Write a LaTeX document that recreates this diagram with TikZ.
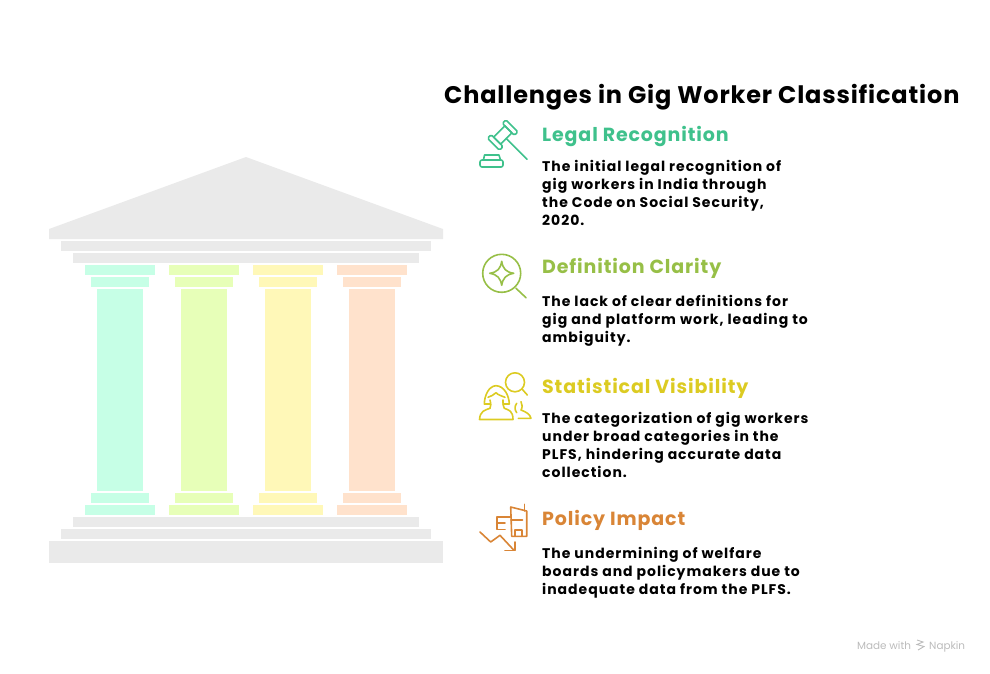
\documentclass[tikz,border=0pt]{standalone}
\usepackage{fontspec}
\setmainfont{Poppins}
\usetikzlibrary{positioning}
\definecolor{roofgray}{HTML}{EAEAEA}
\definecolor{legalgreen}{HTML}{3FC18C}
\definecolor{clarlime}{HTML}{97BF47}
\definecolor{statyellow}{HTML}{DCCB22}
\definecolor{policyorange}{HTML}{D98536}
\definecolor{napgray}{HTML}{BBBBBB}
\begin{document}
\begin{tikzpicture}[x=1pt,y=-1pt]
        \tikzstyle{titletext}=[anchor=base west,inner sep=0pt,font=\fontsize{24}{26}\selectfont\bfseries\addfontfeatures{LetterSpace=3.5}]
        \tikzstyle{headtext}=[anchor=base west,inner sep=0pt,font=\fontsize{19}{21}\selectfont\bfseries\addfontfeatures{LetterSpace=4.6}]
        \tikzstyle{bodytext}=[anchor=north west,inner sep=0pt,align=left,font=\fontsize{14}{18}\selectfont\bfseries\addfontfeatures{LetterSpace=7}]
        \tikzstyle{iconline}=[line width=1.6pt,line cap=round,line join=round,fill=none]
        \tikzstyle{marktext}=[anchor=base west,inner sep=0pt,text=napgray,font=\fontsize{10.4}{12}\selectfont]
        \useasboundingbox (0,0) rectangle (990,673);
        % temple
        \fill[roofgray] (49,239) -- (49,229) -- (246,157) -- (443,229) -- (443,239) -- cycle;
        \fill[roofgray] (61,241) rectangle (431,251);
        \fill[roofgray] (73,253) rectangle (419,263);
        \fill[roofgray] (73,517) rectangle (419,527);
        \fill[roofgray] (61,529) rectangle (431,539);
        \fill[roofgray] (49,541) rectangle (443,563);
        \foreach \colx/\colcol in {85/C6FFE6,169/E7FFB8,253/FFF8B8,337/FFE2CC} {
            \definecolor{pillar}{HTML}{\colcol}
            \fill[pillar] (\colx,265) rectangle ++(70,10);
            \fill[pillar] (\colx+6,277) rectangle ++(58,10);
            \fill[pillar] (\colx+12,289) rectangle ++(46,202);
            \fill[pillar] (\colx+6,493) rectangle ++(58,10);
            \fill[pillar] (\colx,505) rectangle ++(70,10);
        }
        % texts
        \node[titletext] (title) at (444,103) {Challenges in Gig Worker Classification};
        \node[headtext,text=legalgreen] (legalhead) at (542,141) {Legal Recognition};
        \node[bodytext] (legalbody) at (542,160) {The initial legal recognition of\\gig workers in India through\\the Code on Social Security,\\2020.};
        \node[headtext,text=clarlime] (clarhead) at (542,273) {Definition Clarity};
        \node[bodytext] (clarbody) at (542,295) {The lack of clear definitions for\\gig and platform work, leading to\\ambiguity.};
        \node[headtext,text=statyellow] (stathead) at (542,393) {Statistical Visibility};
        \node[bodytext] (statbody) at (542,412) {The categorization of gig workers\\under broad categories in the\\PLFS, hindering accurate data\\collection.};
        \node[headtext,text=policyorange] (policyhead) at (542,525) {Policy Impact};
        \node[bodytext] (policybody) at (542,547) {The undermining of welfare\\boards and policymakers due to\\inadequate data from the PLFS.};
        \node[marktext] (madewith) at (857,649) {Made with};
        \node[marktext] (napkin) at (929,649) {Napkin};
        % gavel
        \begin{scope}[shift={(502.7,135)},rotate=45,iconline,draw=legalgreen]
            \draw[rounded corners=1.5pt] (-13,-8.5) rectangle (-8,8.5);
            \draw[rounded corners=1.5pt] (8,-8.5) rectangle (13,8.5);
            \draw (-8,-5) rectangle (8,5);
            \draw (0,5) -- (0,34.5);
        \end{scope}
        \draw[iconline,draw=legalgreen,rounded corners=2pt] (480,160) rectangle (503,167);
        \draw[iconline,draw=legalgreen] (483.5,160) -- (484.5,155) -- (499,155) -- (500.5,160);
        % magnifier with star
        \draw[iconline,draw=clarlime] (501.7,273.3) circle (19);
        \draw[iconline,draw=clarlime] (516,288.3) -- (526,297.7);
        \draw[iconline,draw=clarlime] (501.7,261.3) .. controls (503,269) and (506,272) .. (513.7,273.3)
            .. controls (506,274.6) and (503,278) .. (501.7,285.3)
            .. controls (500.4,278) and (497.4,274.6) .. (489.7,273.3)
            .. controls (497.4,272) and (500.4,269) .. (501.7,261.3) -- cycle;
        % people with magnifier
        \draw[iconline,draw=statyellow] (515,382.3) circle (9.5);
        \draw[iconline,draw=statyellow] (522,389) -- (527.3,395);
        \draw[iconline,draw=statyellow] (490,400) .. controls (491,404) and (491,406) .. (490,408.3)
            .. controls (485,410) and (480,411) .. (479.5,419.5) -- (513,419.5)
            .. controls (513,411) and (509,410) .. (504.3,408.3)
            .. controls (503,406) and (503,404) .. (503,400);
        \draw[iconline,draw=statyellow] (490.5,404) -- (484.3,404) .. controls (484.5,395) and (489,386) .. (496,385.7)
            .. controls (504,386) and (509,395) .. (509.3,404) -- (503,404);
        \draw[iconline,draw=statyellow] (488,397.3) .. controls (491,396) and (494,395) .. (496,392.7)
            .. controls (498,395) and (502,396) .. (505,397.3);
        \draw[iconline,draw=statyellow] (516.7,403.3) .. controls (514.5,406) and (514.5,410) .. (516.7,412.7);
        \draw[iconline,draw=statyellow] (521,401.7) .. controls (522.5,404) and (522.5,408) .. (521,410)
            .. controls (526,412) and (530,414) .. (531,418.3) -- (518.3,418.3);
        % building with falling arrow
        \draw[iconline,draw=policyorange] (510.7,507) -- (526.7,511) -- (526.7,536.3) -- (511.7,536.3) -- cycle;
        \draw[iconline,draw=policyorange] (524.3,504.3) -- (524.3,511);
        \draw[iconline,draw=policyorange] (511,520) -- (522.5,520);
        \draw[iconline,draw=policyorange] (510.5,517) -- (496.7,517) -- (496.7,529.5) -- (505,529.5);
        \draw[iconline,draw=policyorange] (496.7,523) -- (505,523);
        \draw[iconline,draw=policyorange] (515,536.3) -- (515,530) -- (521.7,530) -- (521.7,536.3);
        \draw[iconline,draw=policyorange] (480,532) -- (490.7,542) -- (500,535.3) -- (514,550.3);
        \draw[iconline,draw=policyorange] (505,550.3) -- (515,550.3) -- (515,542);
        % napkin mark
        \draw[line width=.9pt,draw=napgray] (917,640) -- (923,642) -- (917,644.5) -- (924,646.5) -- (918,650);
\end{tikzpicture}
\end{document}
